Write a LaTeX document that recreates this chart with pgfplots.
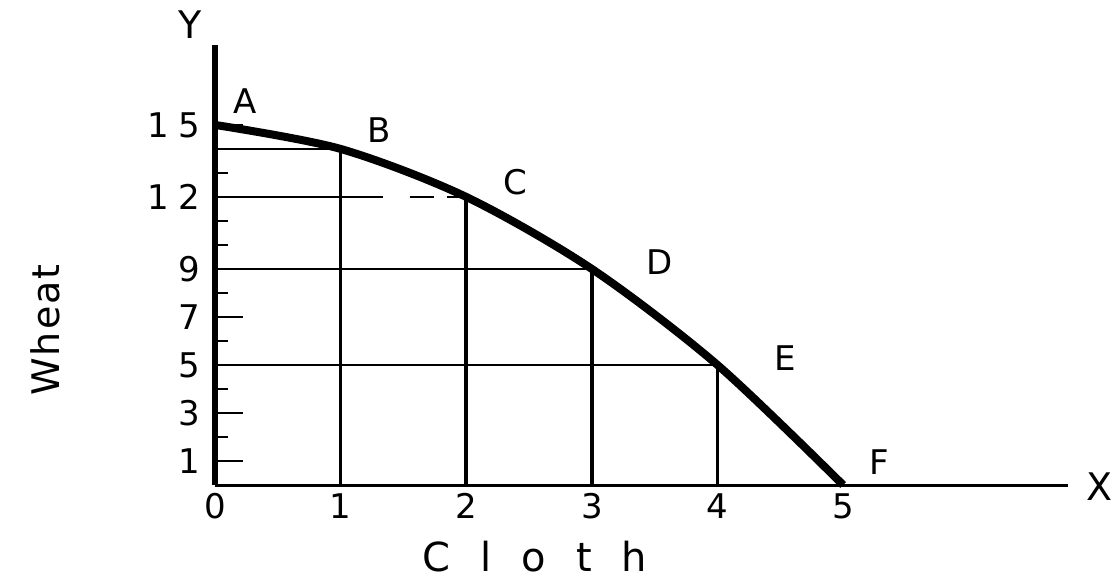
\documentclass[border=0pt]{standalone}
\usepackage{fontspec}
\setmainfont{DejaVu Sans}
\usepackage{pgfplots}
\pgfplotsset{compat=1.18}

\newcommand{\tickfont}{\fontsize{17bp}{20bp}\selectfont}
\newcommand{\labfont}{\fontsize{19bp}{22bp}\selectfont}

\begin{document}
\begin{tikzpicture}
  \useasboundingbox (-107.5bp,-48bp) rectangle (451.5bp,242.5bp);
  \begin{axis}[
      scale only axis,
      width=426.5bp, height=220bp,
      xmin=0, xmax=6.79,
      ymin=0, ymax=18.33,
      axis lines=left,
      x axis line style={-, line width=1.5bp},
      y axis line style={-, line width=2.5bp},
      xtick={0,1,2,3,4,5},
      xtick style={draw=none},
      ytick={1,3,5,7,9,12,15},
      yticklabels={1,3,5,7,9,1\kern5bp 2,1\kern5bp 5},
      minor ytick={2,4,6,8,10,11,13,14},
      tick align=inside,
      major tick length=14bp,
      minor tick length=6.5bp,
      ytick style={black, line width=1.3bp},
      every minor tick/.append style={black, line width=1.3bp},
      /pgf/number format/assume math mode=true,
      yticklabel style={font=\tickfont, anchor=east, inner sep=0pt, xshift=-7bp},
      xticklabel style={font=\tickfont, anchor=north, inner sep=0pt, yshift=-4bp},
      clip=false,
    ]
    % guide lines to the points
    \addplot[line width=1.2bp] coordinates {(0,14) (1,14)};
    \addplot[line width=1.2bp] coordinates {(0,12) (1.34,12)};
    \addplot[line width=1.2bp] coordinates {(1.55,12) (1.74,12)};
    \addplot[line width=1.2bp] coordinates {(1.85,12) (2,12)};
    \addplot[line width=1.2bp] coordinates {(0,9) (3,9)};
    \addplot[line width=1.2bp] coordinates {(0,5) (4,5)};
    \addplot[line width=1.8bp] coordinates {(1,0) (1,14)};
    \addplot[line width=1.8bp] coordinates {(2,0) (2,12)};
    \addplot[line width=1.8bp] coordinates {(3,0) (3,9)};
    \addplot[line width=1.8bp] coordinates {(4,0) (4,5)};
    % production possibility curve
    \addplot[smooth, line width=4bp] coordinates {
      (0,15) (1,14) (2,12) (3,9) (4,5) (5,0)};

    \node[font=\tickfont] at (axis cs:0.24,16.0) {A};
    \node[font=\tickfont] at (axis cs:1.31,14.8) {B};
    \node[font=\tickfont] at (axis cs:2.39,12.6) {C};
    \node[font=\tickfont] at (axis cs:3.54,9.3) {D};
    \node[font=\tickfont] at (axis cs:4.54,5.3) {E};
    \node[font=\tickfont] at (axis cs:5.29,0.96) {F};
  \end{axis}
  \node[font=\labfont] at (-12.5bp,230bp) {Y};
  \node[font=\labfont] at (442.5bp,-1bp) {X};
  \node[font=\labfont, rotate=90] at (-85bp,77.5bp) {W\kern1bp h\kern1bp e\kern1bp a\kern1bp t};
  \node[font=\fontsize{20bp}{23bp}\selectfont, anchor=base, inner sep=0pt] at (160bp,-43bp)
    {C\kern15bp l\kern15bp o\kern15bp t\kern15bp h};
\end{tikzpicture}
\end{document}
